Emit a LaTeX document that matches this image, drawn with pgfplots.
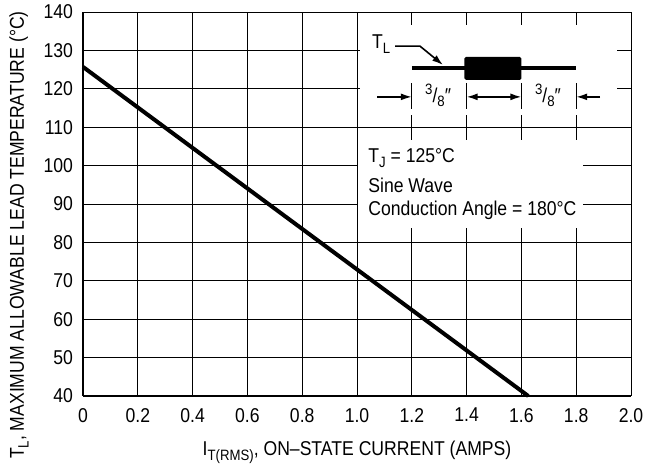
\documentclass[border=0pt]{standalone}
\usepackage{fontspec}
\setmainfont[FakeStretch=0.88]{Liberation Sans}
\usepackage{pgfplots}
\pgfplotsset{compat=1.18}
\usetikzlibrary{arrows.meta}
\newcommand{\sub}[1]{\raisebox{-0.45ex}{\fontsize{7.5}{9}\selectfont #1}}
\newcommand{\sups}[1]{\raisebox{0.7ex}{\fontsize{7.5}{9}\selectfont #1}}

\begin{document}
\begin{tikzpicture}[font=\fontsize{10}{12}\selectfont]
  \begin{axis}[
      scale only axis, width=274pt, height=192pt,
      xmin=0, xmax=2, ymin=40, ymax=140,
      clip=false,
      xtick={0,0.2,0.4,0.6,0.8,1.0,1.2,1.4,1.6,1.8,2.0},
      xticklabels={0,0.2,0.4,0.6,0.8,1.0,1.2,1.4,1.6,1.8,2.0},
      ytick={40,50,60,70,80,90,100,110,120,130,140},
      /pgf/number format/assume math mode=true,
      grid=major, grid style={black, line width=0.5pt},
      axis x line*=bottom, axis y line*=left,
      axis line style={-, line width=1.25pt},
      major tick length=0pt,
      tick label style={font=\fontsize{10}{12}\selectfont},
      yticklabel style={xshift=-1.5pt},
      xticklabel style={yshift=-2.5pt},
    ]
    % the line
    \addplot[black, line width=2pt] coordinates {(0,125.7) (1.625,40)};

    % white boxes over the grid
    \fill[white] (axis cs:1.01,113.2) rectangle (axis cs:1.95,136.6);
    \fill[white] (axis cs:1.005,83.75) rectangle (axis cs:1.825,106.7);

    % inset: lead length sketch
    \draw[line width=2pt] (axis cs:1.2,125.4) -- (axis cs:1.8,125.4);
    \fill[black, rounded corners=0.8pt] (axis cs:1.392,122.3) rectangle (axis cs:1.6,128.3);
    \node at (axis cs:1.088,131.6) {T\sub{L}};
    \draw[line width=0.8pt, -{Latex[length=5.5pt,width=3.5pt]}]
      (axis cs:1.139,131.1) -- (axis cs:1.23,131.1) -- (axis cs:1.314,126.2);
    \draw[line width=0.6pt] (axis cs:1.2,114.8) -- (axis cs:1.2,121.5);
    \draw[line width=0.6pt] (axis cs:1.4,114.8) -- (axis cs:1.4,121.5);
    \draw[line width=0.6pt] (axis cs:1.6,114.8) -- (axis cs:1.6,121.5);
    \draw[line width=0.6pt] (axis cs:1.8,114.8) -- (axis cs:1.8,121.5);
    \draw[line width=0.8pt, -{Latex[length=5.5pt,width=3.5pt]}]
      (axis cs:1.073,117.9) -- (axis cs:1.2,117.9);
    \draw[line width=0.8pt, {Latex[length=5.5pt,width=3.5pt]}-{Latex[length=5.5pt,width=3.5pt]}]
      (axis cs:1.4,117.9) -- (axis cs:1.6,117.9);
    \draw[line width=0.8pt, -{Latex[length=5.5pt,width=3.5pt]}]
      (axis cs:1.887,117.9) -- (axis cs:1.8,117.9);
    \node at (axis cs:1.296,118.2) {\sups{3}/\sub{8}″};
    \node at (axis cs:1.697,118.2) {\sups{3}/\sub{8}″};

    % conditions
    \node[anchor=west, inner sep=0pt] at (axis cs:1.04,102.0) {T\sub{J} = 125°C};
    \node[anchor=west, inner sep=0pt] at (axis cs:1.04,94.95) {Sine Wave};
    \node[anchor=west, inner sep=0pt] at (axis cs:1.04,88.4) {Conduction Angle = 180°C};

    % axis titles
    \node[rotate=90] at (axis description cs:-0.1168,0.419)
      {T\sub{L}, MAXIMUM ALLOWABLE LEAD TEMPERATURE (°C)};
    \node at (axis description cs:0.5,-0.1458)
      {I\sub{T(RMS)}, ON–STATE CURRENT (AMPS)};

    \coordinate (bbl) at (axis description cs:-0.1515,-0.1953);
    \coordinate (btr) at (axis description cs:1.0383,1.03125);
  \end{axis}
  \pgfresetboundingbox
  \useasboundingbox (bbl) rectangle (btr);
\end{tikzpicture}
\end{document}
